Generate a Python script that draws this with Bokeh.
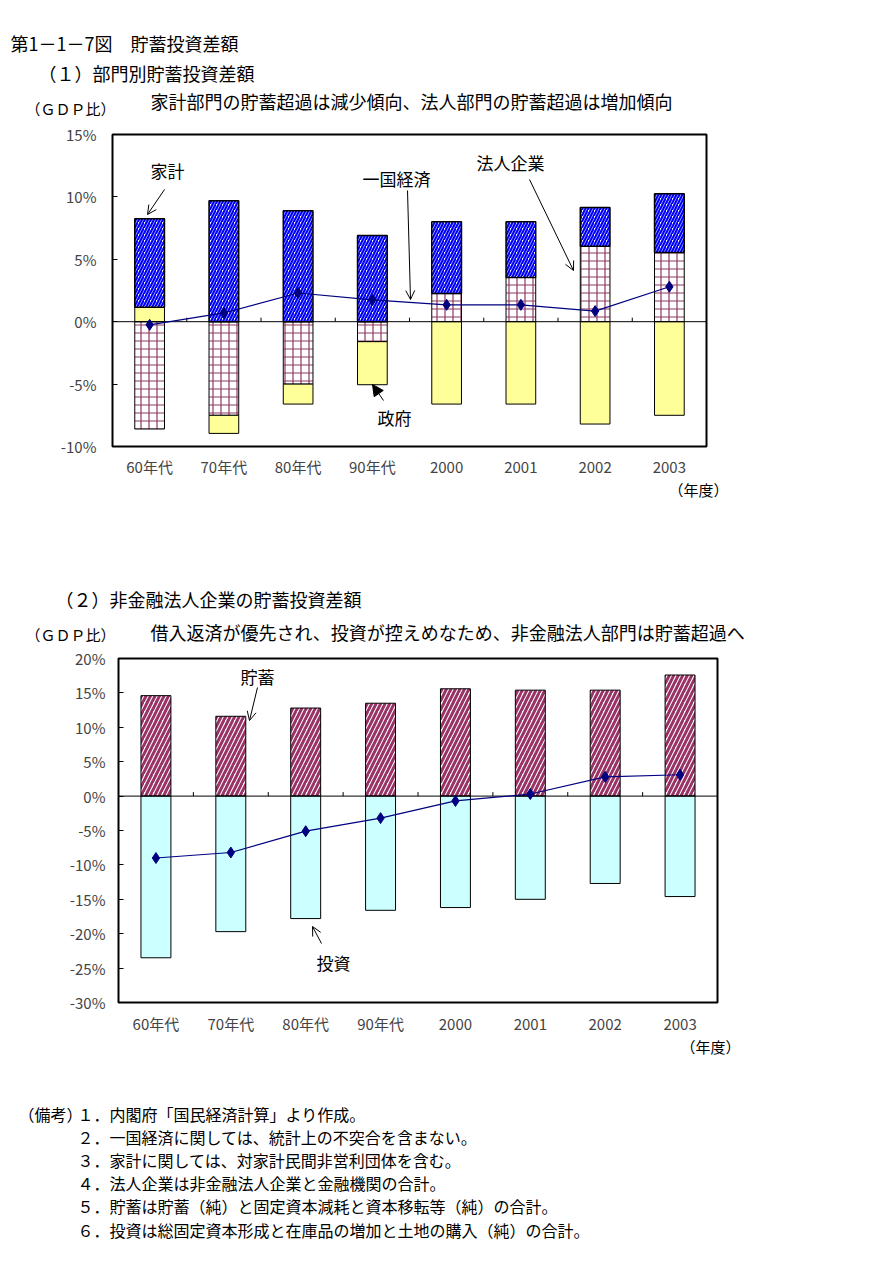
from bokeh.plotting import figure
from bokeh.models import (Range1d, Label, Arrow, OpenHead, NormalHead, LinearAxis,
                          PrintfTickFormatter, FixedTicker)
from bokeh.embed import file_html
from bokeh.resources import INLINE

JP = "Noto Sans CJK JP"

# ---------------- data ----------------
periods = ["60年代", "70年代", "80年代", "90年代", "2000", "2001", "2002", "2003"]

# (1) sector saving-investment balance (% of GDP)
corporate = [-8.6, -7.5, -5.0, -1.6, 2.25, 3.55, 6.05, 5.55]
government = [1.15, -1.45, -1.6, -3.45, -6.6, -6.6, -8.2, -7.5]
household = [7.1, 9.7, 8.9, 6.9, 5.75, 4.45, 3.1, 4.7]
economy = [-0.25, 0.7, 2.3, 1.75, 1.35, 1.35, 0.85, 2.8]

# (2) non-financial corporations (% of GDP)
nf_saving = [14.6, 11.6, 12.8, 13.5, 15.6, 15.4, 15.4, 17.6]
nf_invest = [-23.5, -19.7, -17.8, -16.6, -16.2, -15.0, -12.7, -14.6]
nf_balance = [-9.0, -8.2, -5.1, -3.2, -0.7, 0.3, 2.8, 3.1]

top_ticks = [-10, -5, 0, 5, 10, 15]
bottom_ticks = [-30, -25, -20, -15, -10, -5, 0, 5, 10, 15, 20]

notes = [
    "１．内閣府「国民経済計算」より作成。",
    "２．一国経済に関しては、統計上の不突合を含まない。",
    "３．家計に関しては、対家計民間非営利団体を含む。",
    "４．法人企業は非金融法人企業と金融機関の合計。",
    "５．貯蓄は貯蓄（純）と固定資本減耗と資本移転等（純）の合計。",
    "６．投資は総固定資本形成と在庫品の増加と土地の購入（純）の合計。",
]

NAVY = "#000080"
MAROON = "#993366"

N = len(periods)
xs = [i + 1 for i in range(N)]            # category slots
bounds = [i + 0.5 for i in xs[:-1]]        # slot boundaries

# page geometry (page pixel coordinates; canvas sits at the page origin)
PX0, PX1, PY0, PY1 = 0, 890, 0, 1258

p = figure(width=PX1 - PX0, height=PY1 - PY0, x_range=Range1d(PX0, PX1),
           y_range=Range1d(PY1, PY0), min_border=0, x_axis_location=None,
           y_axis_location=None, toolbar_location=None, output_backend="svg", title=None)
p.grid.visible = False
p.outline_line_color = None

extra_x, extra_y = {}, {}


def stack(series_list):
    pos = [0.0] * N
    neg = [0.0] * N
    out = []
    for vals in series_list:
        b, t = [], []
        for i, v in enumerate(vals):
            if v >= 0:
                b.append(pos[i]); t.append(pos[i] + v); pos[i] += v
            else:
                t.append(neg[i]); b.append(neg[i] + v); neg[i] += v
        out.append((b, t))
    return out


def chart(name, fl, fr, ft, fb, ymin, ymax, ticks, sy, sx):
    kx = N / (fr - fl)
    extra_x[name + "x"] = Range1d(0.5 + (PX0 - fl) * kx, 0.5 + (PX1 - fl) * kx)
    ky = (ymax - ymin) / (fb - ft)
    extra_y[name + "y"] = Range1d(ymin - (PY1 - fb) * ky, ymax + (ft - PY0) * ky)
    ya = LinearAxis(y_range_name=name + "y", fixed_location=fl,
                    ticker=FixedTicker(ticks=ticks), formatter=PrintfTickFormatter(format="%d%%"),
                    axis_line_color=None, major_tick_in=5, major_tick_out=0,
                    major_tick_line_color="black", minor_tick_line_color=None,
                    major_label_text_font=JP, major_label_text_font_size="15px",
                    major_label_standoff=sy)
    p.add_layout(ya, "left")
    xa = LinearAxis(x_range_name=name + "x", fixed_location=fb,
                    ticker=FixedTicker(ticks=xs),
                    major_label_overrides={x: s for x, s in zip(xs, periods)},
                    axis_line_color=None, major_tick_in=0, major_tick_out=0,
                    major_tick_line_color=None, minor_tick_line_color=None,
                    major_label_text_font=JP, major_label_text_font_size="15px",
                    major_label_standoff=sx)
    p.add_layout(xa, "below")
    return dict(x_range_name=name + "x", y_range_name=name + "y"), ky


def zero_line(r, ky):
    p.segment(x0=[0.5], x1=[N + 0.5], y0=[0], y1=[0], line_color="black", line_width=1, **r)
    p.segment(x0=bounds, x1=bounds, y0=0, y1=4 * ky, line_color="black", line_width=1, **r)


def frame_box(r, ymin, ymax):
    p.quad(left=[0.5], right=[N + 0.5], bottom=[ymin], top=[ymax], fill_color=None,
           line_color="black", line_width=2, **r)


def label(x, y, text, size, align="left"):
    p.add_layout(Label(x=x, y=y, text=text, text_font=JP, text_font_size=size,
                       text_align=align, text_baseline="middle", text_color="black"))


def arrow(x0, y0, x1, y1, filled=False):
    head = NormalHead(size=11, fill_color="black", line_color="black") if filled else \
        OpenHead(size=9, line_color="black", line_width=1)
    p.add_layout(Arrow(end=head, x_start=x0, y_start=y0, x_end=x1, y_end=y1,
                       line_color="black", line_width=1))


# ---------------- chart 1 ----------------
r1, ky1 = chart("c1", 112, 706, 134, 446, -10, 15, top_ticks, 16, 9)
(cb, ct), (gb, gt), (hb, ht) = stack([corporate, government, household])
p.vbar(x=xs, bottom=cb, top=ct, width=0.4, fill_color="white", line_color="black",
       hatch_pattern="+", hatch_color="#8B3A62", hatch_scale=8, hatch_weight=1.2, **r1)
p.vbar(x=xs, bottom=gb, top=gt, width=0.4, fill_color="#FFFF99", line_color="black", **r1)
p.vbar(x=xs, bottom=hb, top=ht, width=0.4, fill_color="white", line_color="black",
       line_width=1.5, hatch_pattern="/", hatch_color="#0000FF", hatch_scale=6,
       hatch_weight=2.2, **r1)
zero_line(r1, ky1)
p.line(x=xs, y=economy, line_color=NAVY, line_width=1.2, **r1)
p.scatter(x=xs, y=economy, marker="diamond", size=11, fill_color=NAVY, line_color=NAVY, **r1)
frame_box(r1, -10, 15)

label(10, 42, "第1－1－7図　貯蓄投資差額", "18px")
label(38, 72, "（１）部門別貯蓄投資差額", "18px")
label(150, 100, "家計部門の貯蓄超過は減少傾向、法人部門の貯蓄超過は増加傾向", "18px")
label(25, 108, "（ＧＤＰ比）", "15px")
label(150, 170, "家計", "17px")
label(362, 178, "一国経済", "17px")
label(476, 162, "法人企業", "17px")
label(377, 417, "政府", "17px")
label(668, 489, "（年度）", "15px")
arrow(164, 189, 147, 214)
arrow(407, 190, 410, 299)
arrow(529, 179, 573, 270)
arrow(383, 400, 372, 384, filled=True)

# ---------------- chart 2 ----------------
r2, ky2 = chart("c2", 118, 717, 658, 1002, -30, 20, bottom_ticks, 13, 10)
p.vbar(x=xs, bottom=0, top=nf_saving, width=0.4, fill_color="white", line_color="black",
       hatch_pattern="/", hatch_color=MAROON, hatch_scale=9, hatch_weight=3, **r2)
p.vbar(x=xs, bottom=nf_invest, top=0, width=0.4, fill_color="#CCFFFF", line_color="black", **r2)
zero_line(r2, ky2)
p.line(x=xs, y=nf_balance, line_color=NAVY, line_width=1.2, **r2)
p.scatter(x=xs, y=nf_balance, marker="diamond", size=11, fill_color=NAVY, line_color=NAVY, **r2)
frame_box(r2, -30, 20)

label(55, 598, "（２）非金融法人企業の貯蓄投資差額", "18px")
label(25, 634, "（ＧＤＰ比）", "15px")
label(150, 631, "借入返済が優先され、投資が控えめなため、非金融法人部門は貯蓄超過へ", "18px")
label(240, 676, "貯蓄", "17px")
label(316, 962, "投資", "17px")
label(680, 1046, "（年度）", "15px")
arrow(257, 687, 249, 720)
arrow(321, 943, 312, 926)

# ---------------- notes ----------------
label(18, 1113, "（備考）", "16px")
for i, t in enumerate(notes):
    label(77, 1113 + i * 23.2, t, "16px")

p.extra_x_ranges = extra_x
p.extra_y_ranges = extra_y

open("out.html", "w").write(file_html(p, INLINE))
